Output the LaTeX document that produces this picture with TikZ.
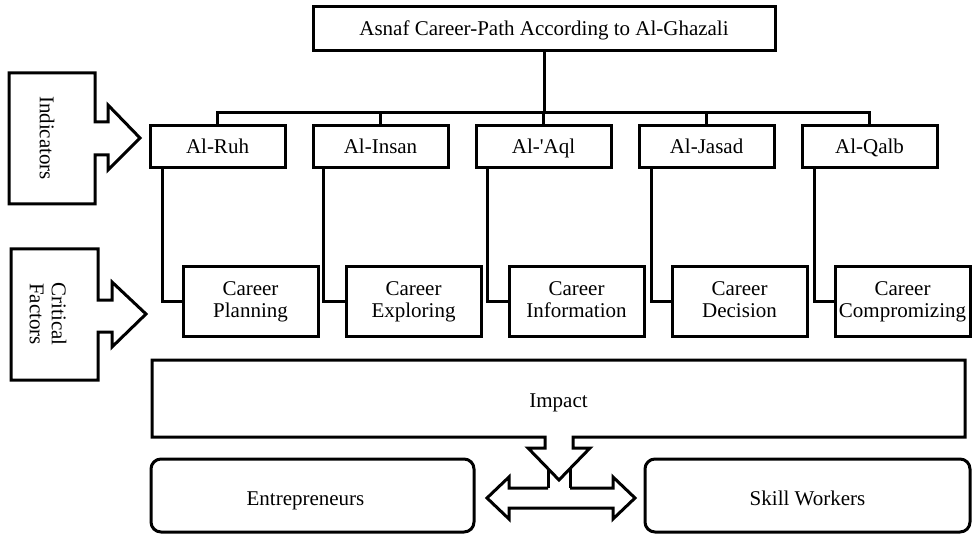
\documentclass[tikz,border=0pt]{standalone}
\usepackage{fontspec}
\setmainfont{Liberation Serif}
\begin{document}
\begin{tikzpicture}[x=1pt,y=-1pt,line width=3pt,
  txt/.style={font=\fontsize{21}{22}\selectfont,align=center,inner sep=0pt},
  topbox/.style={txt,draw,minimum width=462pt,minimum height=44pt,text height=15pt,text depth=2pt},
  lvlbox/.style={txt,draw,minimum width=135pt,minimum height=42pt,text height=16pt,text depth=2pt},
  carbox/.style={txt,draw,minimum width=135pt,minimum height=69pt},
  outbox/.style={txt,draw,rounded corners=10pt,minimum height=73pt,text height=19pt,text depth=0pt},
  conn/.style={draw,line width=3pt}]
\useasboundingbox (0,0) rectangle (973,534);
% title
\node[topbox] (top) at (544,29) {Asnaf Career-Path According to Al-Ghazali};
% level 1
\node[lvlbox] (ruh)   at (217.5,147) {Al-Ruh};
\node[lvlbox] (insan) at (380.5,147) {Al-Insan};
\node[lvlbox] (aql)   at (543.5,147) {Al-\textquotesingle Aql};
\node[lvlbox] (jasad) at (706.5,147) {Al-Jasad};
\node[lvlbox] (qalb)  at (869.5,147) {Al-Qalb};
% level 2
\node[carbox] (plan) at (250.5,301.5) {Career\\Planning};
\node[carbox] (expl) at (413.5,301.5) {Career\\Exploring};
\node[carbox] (info) at (576.5,301.5) {Career\\Information\vphantom{g}};
\node[carbox] (deci) at (739.5,301.5) {Career\\Decision\vphantom{g}};
\node[carbox] (comp) at (902.5,301.5) {Career\\Compromizing};
% tree connectors
\coordinate (bar) at (0,113);
\draw[conn] (top.south) -- (top.south |- bar);
\draw[conn] (ruh.north) -- (ruh.north |- bar) -- (qalb.north |- bar) -- (qalb.north);
\draw[conn] (insan.north) -- (insan.north |- bar);
\draw[conn] (aql.north) -- (aql.north |- bar);
\draw[conn] (jasad.north) -- (jasad.north |- bar);
\draw[conn] ([xshift=14pt]ruh.south west) |- (plan.west);
\draw[conn] ([xshift=12pt]insan.south west) |- (expl.west);
\draw[conn] ([xshift=13pt]aql.south west) |- (info.west);
\draw[conn] ([xshift=14pt]jasad.south west) |- (deci.west);
\draw[conn] ([xshift=14pt]qalb.south west) |- (comp.west);
% side arrows
\draw (9,73) -- (95,73) -- (95,122) -- (108,122) -- (108,105) -- (140,138) -- (108,170) -- (108,155) -- (95,155) -- (95,204) -- (9,204) -- cycle;
\node[txt,rotate=-90] (ind) at (47,138) {Indicators};
\draw (11,249) -- (98,249) -- (98,300) -- (112,300) -- (112,282) -- (146,314) -- (112,347) -- (112,332) -- (98,332) -- (98,380) -- (11,380) -- cycle;
\node[txt,rotate=-90] (crit) at (48,314) {Critical\\Factors};
% impact box with down arrow
\draw (545,437) -- (152,437) -- (152,360) -- (965,360) -- (965,437) -- (573,437) -- (573,448) -- (590,448) -- (559,480) -- (528,448) -- (545,448) -- cycle;
\node[txt,text height=14pt,text depth=0pt] (impact) at (558.5,400) {Impact};
\draw (548,468.6) -- (548,488);
\draw (570,468.6) -- (570,488);
% double arrow
\draw (548,488) -- (509,488) -- (509,477) -- (487,498) -- (509,519) -- (509,508) -- (613,508) -- (613,519) -- (635,498) -- (613,477) -- (613,488) -- (570,488);
% outputs
\node[outbox,minimum width=323pt,label={[txt,text height=19pt,text depth=0pt,xshift=-7pt]center:Entrepreneurs}] (ent) at (312.5,495.5) {};
\node[outbox,minimum width=325pt] (skill) at (807.5,495.5) {Skill Workers};
\end{tikzpicture}
\end{document}
